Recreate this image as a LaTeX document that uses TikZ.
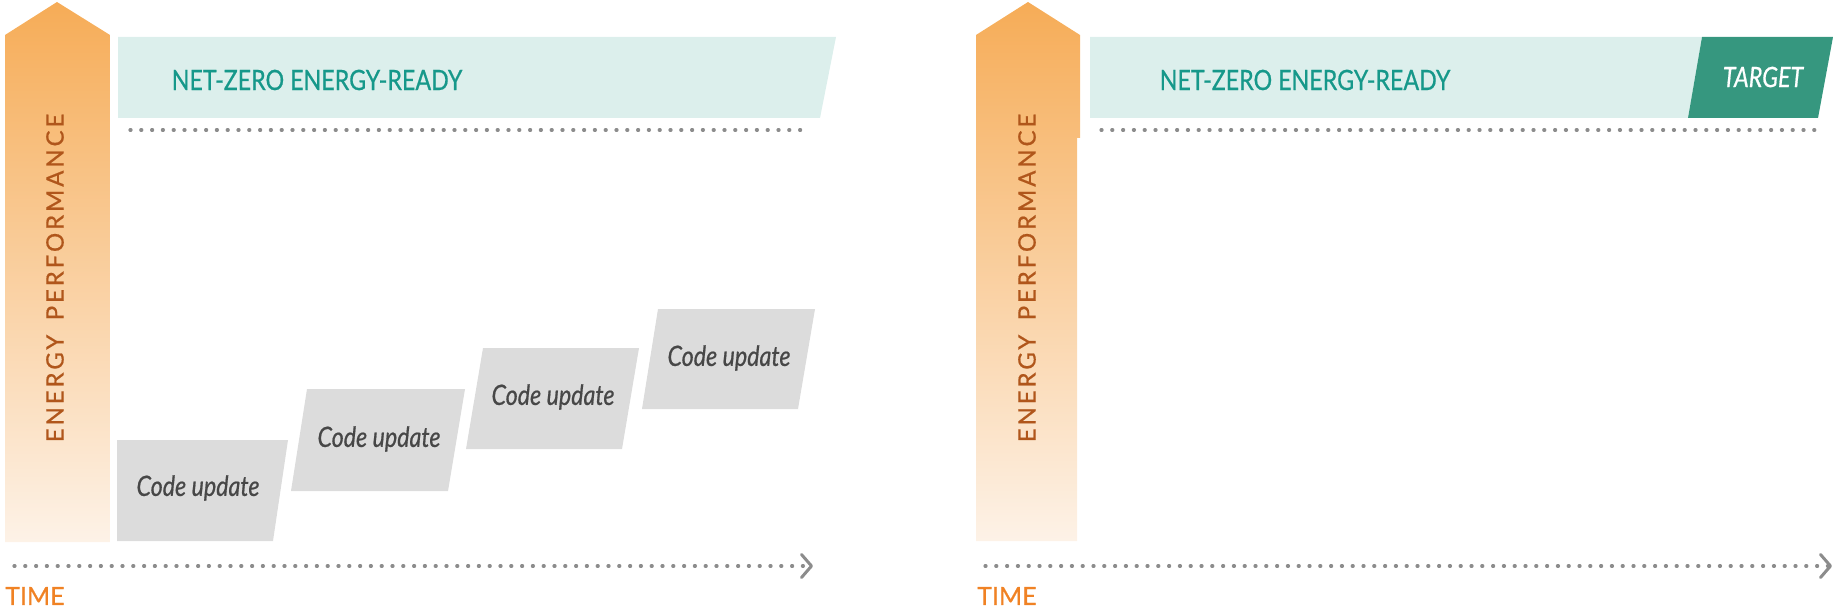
\documentclass[tikz,border=0pt]{standalone}
\usepackage{fontspec}
\setmainfont{Lato}
\newfontfamily\latomed[FakeBold=0.6]{Lato}
\newfontfamily\latocond[FakeStretch=0.83, FakeBold=0.6]{Lato}
\usetikzlibrary{arrows.meta}

\definecolor{perfTop}{HTML}{F6AC57}
\definecolor{perfBot}{HTML}{FDF2E7}
\definecolor{perfText}{HTML}{B0561B}
\definecolor{bandFill}{HTML}{DCEFEC}
\definecolor{bandText}{HTML}{16988A}
\definecolor{targetFill}{HTML}{36977F}
\definecolor{updFill}{HTML}{DCDCDC}
\definecolor{updText}{HTML}{474747}
\definecolor{dotGray}{HTML}{8C8C8C}
\definecolor{timeText}{HTML}{F08224}

\tikzset{
  perfarrow/.style={top color=perfTop, bottom color=perfBot, draw=none},
  perflabel/.style={rotate=90, text=perfText, font=\latomed\fontsize{24}{24}\selectfont\addfontfeature{LetterSpace=12}},
  bandlabel/.style={text=bandText, font=\latocond\fontsize{28}{28}\selectfont},
  updlabel/.style={text=updText, font=\latocond\fontsize{28}{28}\selectfont\itshape},
  timelabel/.style={text=timeText, font=\latomed\fontsize{25}{25}\selectfont},
  dotline/.style={dotGray, line width=3.2pt, line cap=round, dash pattern=on 1pt off 9.8pt},
  timeline/.style={dotline, -{Straight Barb[length=10pt, width=23pt, line width=3pt, round]}}
}

\begin{document}
\begin{tikzpicture}[x=1pt, y=-1pt]
\useasboundingbox (0,0) rectangle (1833,612);

% left panel
\shade[perfarrow] (5,542) -- (5,35) -- (57,2) -- (110,35) -- (110,542) -- cycle;
\node [perflabel] (perfL) at (55,278) {ENERGY\hspace{0.6em}PERFORMANCE};

\fill[bandFill] (118,37) -- (836,37) -- (820,118) -- (118,118) -- cycle;
\node [bandlabel] (netzeroL) at (317,80) {NET-ZERO ENERGY-READY};
\coordinate (capL0) at (130,130);
\coordinate (capL1) at (808,130);
\draw [dotline] (capL0) -- (capL1);

\fill[updFill] (117,440) -- (288,440) -- (273,541) -- (117,541) -- cycle;
\fill[updFill] (307,389) -- (465,389) -- (448,491) -- (291,491) -- cycle;
\fill[updFill] (483,348) -- (639,348) -- (622,449) -- (466,449) -- cycle;
\fill[updFill] (658,309) -- (815,309) -- (798,409) -- (642,409) -- cycle;
\node [updlabel] (cu1) at (198,488) {Code update};
\node [updlabel] (cu2) at (379,439) {Code update};
\node [updlabel] (cu3) at (553,397) {Code update};
\node [updlabel] (cu4) at (729,358) {Code update};

\coordinate (timeL0) at (14,566);
\coordinate (timeL1) at (813,566);
\draw [timeline] (timeL0) -- (timeL1);
\node [timelabel, anchor=west, inner sep=0pt] (timeL) at (5,596) {TIME};

% right panel
\shade[perfarrow] (976,541) -- (976,35) -- (1028,2) -- (1080,35) -- (1080,138) -- (1077,138) -- (1077,541) -- cycle;
\node [perflabel] (perfR) at (1027,278) {ENERGY\hspace{0.6em}PERFORMANCE};

\fill[bandFill] (1090,37) -- (1702,37) -- (1688,118) -- (1090,118) -- cycle;
\fill[targetFill] (1702,37) -- (1833,37) -- (1818,118) -- (1688,118) -- cycle;
\node [bandlabel] (netzeroR) at (1305,80) {NET-ZERO ENERGY-READY};
\node [bandlabel, text=white, font=\latocond\fontsize{28}{28}\selectfont\itshape] (target) at (1763,77) {TARGET};
\coordinate (capR0) at (1101,130);
\coordinate (capR1) at (1822,130);
\draw [dotline] (capR0) -- (capR1);

\coordinate (timeR0) at (985,566);
\coordinate (timeR1) at (1832,566);
\draw [timeline] (timeR0) -- (timeR1);
\node [timelabel, anchor=west, inner sep=0pt] (timeR) at (977,596) {TIME};
\end{tikzpicture}
\end{document}
